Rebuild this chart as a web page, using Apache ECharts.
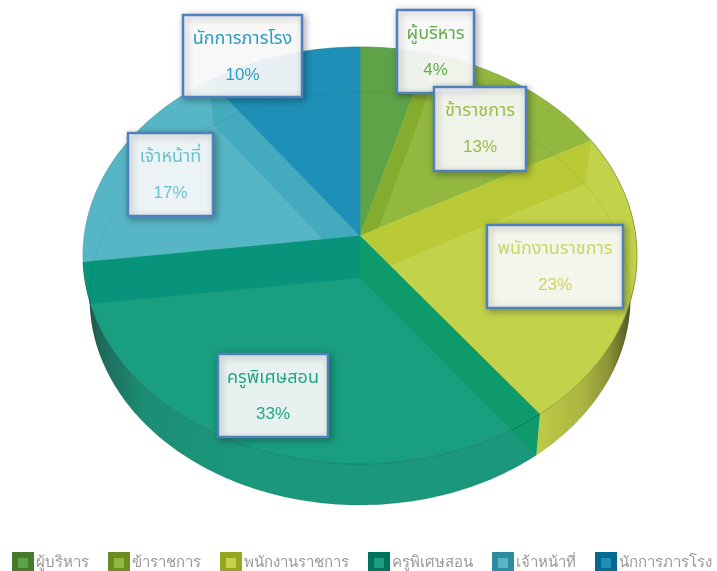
<!DOCTYPE html>
<html><head><meta charset="utf-8">
<style>html,body{margin:0;padding:0;background:#fff;overflow:hidden}#c{width:717px;height:571px}</style>
<script src="https://cdn.jsdelivr.net/npm/echarts@6/dist/echarts.min.js"></script>
</head><body><div id="c"></div>
<script>
// data
const categories = ['ผู้บริหาร','ข้าราชการ','พนักงานราชการ','ครูพิเศษสอน','เจ้าหน้าที่','นักการภารโรง'];
const shares = [4.4, 12.6, 22.7, 33.3, 17, 10];

// styles
const topColors  = ['#5EA348','#93B840','#C2D24A','#1A9E80','#57B6C6','#1E90B7'];
const legendEdge = ['#467A2E','#6B8E23','#98A523','#00735E','#2E8C9E','#066A90'];
const bandStart  = [null,'#84AC2E','#B9CA36','#0E9A6A',null,null];
const bandEnd    = [null,null,null,'#07947A','#43ABBD',null];
const textColors = ['#66AC4E','#97BE48','#C9D763','#26A586','#6DC2D1','#2D9CC0'];
const paintOrder = [2,4,6,12,8,10];
const wallFills = {
  2:[[0,'#BFCB47'],[.45,'#ABB541'],[.72,'#8C9436'],[.9,'#5A5F28'],[1,'#2C2E16']],
  3:[[0,'#22463F'],[.04,'#1E6B5B'],[.13,'#1B8C73'],[.32,'#1B977B'],[1,'#1B987B']]
};
const labelBoxes = [[397,10,77,83],[434,87,92,84],[487,225,136,83],[218,354,110,83],[128,133,85,83],[183,15,119,82]];
const topPlane = {ax:360, ay:236, rx:275.8, ry:206.7, k:0.0935};
const basePlane = {ax:360, ay:278, rx:269, ry:204.5, k:0.0993};

const total = shares.reduce((a,b)=>a+b,0);
const starts = shares.map((_,i)=>shares.slice(0,i).reduce((a,b)=>a+b,0)/total);
const ends = shares.map((_,i)=>shares.slice(0,i+1).reduce((a,b)=>a+b,0)/total);

function rim(f, p){
  const t = f*2*Math.PI, w = 1+p.k*Math.cos(t);
  return [p.ax+p.rx*Math.sin(t)/w, p.ay-p.ry*Math.cos(t)/w];
}
function arc(a, b, p){
  const out=[], n=Math.max(2,Math.ceil((b-a)*360));
  for(let i=0;i<=n;i++) out.push(rim(a+(b-a)*i/n,p));
  return out;
}
function wallQuad(f){
  return [[topPlane.ax,topPlane.ay],rim(f,topPlane),rim(f,basePlane),[basePlane.ax,basePlane.ay]];
}
function render(i){
  return function(){
    const a=starts[i], b=ends[i], kids=[], z=paintOrder[i];
    if(wallFills[i]){
      kids.push({type:'polygon',z2:1,silent:true,
        shape:{points:arc(a,b,topPlane).concat(arc(a,b,basePlane).reverse())},
        style:{fill:{type:'linear',x:0,y:0,x2:1,y2:0,colorStops:wallFills[i].map(s=>({offset:s[0],color:s[1]}))}}});
    }
    kids.push({type:'polygon',z2:z,silent:true,
      shape:{points:[[topPlane.ax,topPlane.ay]].concat(arc(a,b,topPlane))},
      style:{fill:topColors[i],stroke:topColors[i],lineWidth:.6}});
    if(bandStart[i]) kids.push({type:'polygon',z2:z+1,silent:true,shape:{points:wallQuad(a)},style:{fill:bandStart[i]}});
    if(bandEnd[i]) kids.push({type:'polygon',z2:z+1,silent:true,shape:{points:wallQuad(b)},style:{fill:bandEnd[i]}});
    kids.push({type:'polyline',z2:20,silent:true,shape:{points:arc(a,b,basePlane)},
      style:{fill:null,stroke:'rgba(0,40,30,0.08)',lineWidth:1}});
    const front = i===2||i===3;
    kids.push({type:'polyline',z2:20,silent:true,shape:{points:arc(a,b,topPlane)},
      style:{fill:null,stroke:front?'rgba(0,50,30,0.35)':'rgba(0,50,30,0.15)',lineWidth:.8}});
    const box=labelBoxes[i];
    kids.push({type:'rect',z2:30,silent:true,shape:{x:box[0],y:box[1],width:box[2],height:box[3]},
      style:{fill:'rgba(255,255,255,0.9)',stroke:'#4F81BD',lineWidth:2.5,
        shadowBlur:7,shadowOffsetX:2,shadowOffsetY:2,shadowColor:'rgba(0,0,0,0.32)'}});
    const cx=box[0]+box[2]/2;
    kids.push({type:'text',z2:31,silent:true,style:{x:cx,y:box[1]+24,text:categories[i],fill:textColors[i],
      align:'center',verticalAlign:'middle',font:'18px "Noto Sans","Noto Sans Thai",Tahoma,sans-serif'}});
    kids.push({type:'text',z2:31,silent:true,style:{x:cx,y:box[1]+60,text:Math.round(shares[i])+'%',fill:textColors[i],
      align:'center',verticalAlign:'middle',font:'17px Arial,"Liberation Sans",sans-serif'}});
    return {type:'group',children:kids};
  };
}
const chart = echarts.init(document.getElementById('c'),null,{renderer:'canvas'});
chart.setOption({
  animation:false,
  backgroundColor:'#fff',
  legend:{
    left:12, top:552, width:900, padding:0, itemWidth:16, itemHeight:16, itemGap:19,
    textStyle:{color:'#999',fontSize:15,fontFamily:'"Noto Sans",sans-serif'},
    selectedMode:false,
    data:categories.map((n,i)=>({name:n,icon:'rect',itemStyle:{color:topColors[i],borderColor:legendEdge[i],borderWidth:6}}))
  },
  series:categories.map((n,i)=>({
    type:'custom',name:n,coordinateSystem:'none',silent:true,
    itemStyle:{color:topColors[i]},
    data:[shares[i]],renderItem:render(i)
  }))
});
</script></body></html>
